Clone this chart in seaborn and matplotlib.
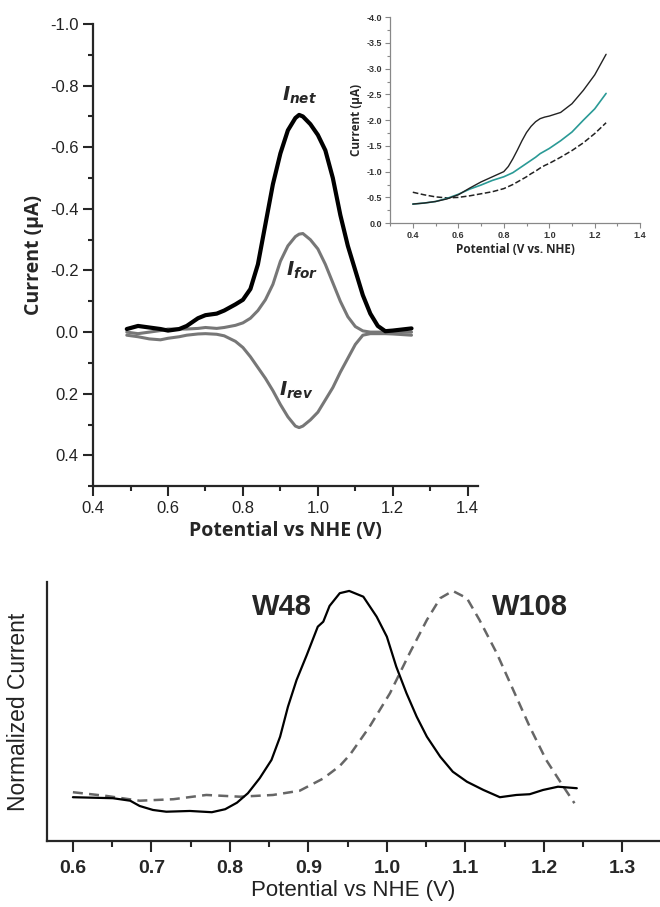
import numpy as np
import pandas as pd
import matplotlib
matplotlib.use('Agg')
import matplotlib.pyplot as plt
from matplotlib.ticker import MultipleLocator
import seaborn as sns

# Panel superior: voltametria (corriente en uA vs potencial)
pot_main = [0.49, 0.52, 0.55, 0.58, 0.60, 0.63, 0.65, 0.68, 0.70, 0.73, 0.75, 0.78, 0.80, 0.82, 0.84,
            0.86, 0.88, 0.90, 0.92, 0.94, 0.95, 0.96, 0.98, 1.00, 1.02, 1.04, 1.06, 1.08, 1.10, 1.12,
            1.14, 1.16, 1.18, 1.20, 1.25]
i_net = [-0.01, -0.02, -0.015, -0.01, -0.005, -0.01, -0.02, -0.045, -0.055, -0.06, -0.07, -0.09, -0.105,
         -0.14, -0.22, -0.35, -0.48, -0.58, -0.655, -0.695, -0.705, -0.70, -0.675, -0.64, -0.59, -0.50,
         -0.38, -0.28, -0.20, -0.12, -0.06, -0.02, -0.003, -0.005, -0.012]
i_for = [0.0, 0.005, 0.0, -0.005, -0.01, -0.01, -0.01, -0.012, -0.015, -0.012, -0.015, -0.022, -0.03,
         -0.045, -0.07, -0.105, -0.155, -0.23, -0.28, -0.31, -0.318, -0.32, -0.30, -0.27, -0.22, -0.16,
         -0.10, -0.05, -0.018, -0.004, 0.0, 0.0, 0.0, 0.0, 0.0]
i_rev = [0.01, 0.015, 0.022, 0.025, 0.02, 0.015, 0.01, 0.006, 0.005, 0.007, 0.012, 0.03, 0.05, 0.08,
         0.115, 0.15, 0.19, 0.235, 0.275, 0.305, 0.31, 0.305, 0.285, 0.26, 0.22, 0.18, 0.13, 0.085,
         0.04, 0.01, 0.005, 0.005, 0.005, 0.006, 0.01]

# Recuadro: barrido completo
pot_inset = [0.40, 0.45, 0.50, 0.55, 0.60, 0.65, 0.70, 0.75, 0.80, 0.82, 0.84, 0.86, 0.88, 0.90,
             0.92, 0.94, 0.96, 0.98, 1.00, 1.05, 1.10, 1.15, 1.20, 1.25]
ins_black = [-0.37, -0.39, -0.42, -0.47, -0.55, -0.68, -0.80, -0.90, -1.00, -1.10, -1.25, -1.42, -1.60,
             -1.76, -1.88, -1.97, -2.03, -2.06, -2.08, -2.15, -2.32, -2.58, -2.88, -3.28]
ins_teal = [-0.37, -0.39, -0.42, -0.48, -0.56, -0.66, -0.74, -0.83, -0.90, -0.94, -0.98, -1.04, -1.10,
            -1.16, -1.22, -1.28, -1.35, -1.40, -1.45, -1.60, -1.77, -2.00, -2.22, -2.52]
ins_dash = [-0.60, -0.55, -0.51, -0.49, -0.50, -0.53, -0.57, -0.61, -0.67, -0.71, -0.75, -0.80, -0.85,
            -0.90, -0.96, -1.01, -1.07, -1.12, -1.16, -1.28, -1.41, -1.56, -1.74, -1.95]

# Panel inferior: corriente normalizada W48 / W108
pot_w48 = [0.600, 0.651, 0.673, 0.685, 0.702, 0.719, 0.749, 0.777, 0.794, 0.809, 0.823, 0.838, 0.853,
           0.864, 0.874, 0.885, 0.898, 0.912, 0.919, 0.927, 0.940, 0.952, 0.970, 0.987, 1.000, 1.012,
           1.025, 1.038, 1.051, 1.068, 1.084, 1.102, 1.123, 1.144, 1.165, 1.182, 1.199, 1.218, 1.242]
w48 = [0.175, 0.171, 0.161, 0.140, 0.124, 0.117, 0.120, 0.115, 0.127, 0.153, 0.191, 0.251, 0.324,
       0.417, 0.537, 0.644, 0.744, 0.857, 0.877, 0.940, 0.991, 1.000, 0.977, 0.897, 0.817, 0.697,
       0.591, 0.497, 0.417, 0.337, 0.277, 0.237, 0.204, 0.175, 0.184, 0.187, 0.204, 0.217, 0.211]
pot_w108 = [0.600, 0.643, 0.685, 0.728, 0.770, 0.813, 0.855, 0.889, 0.919, 0.940, 0.953, 0.978, 1.004,
            1.029, 1.051, 1.068, 1.084, 1.102, 1.118, 1.140, 1.161, 1.182, 1.203, 1.225, 1.239]
w108 = [0.195, 0.180, 0.161, 0.167, 0.184, 0.177, 0.184, 0.201, 0.250, 0.300, 0.345, 0.457, 0.591,
        0.751, 0.884, 0.971, 1.000, 0.971, 0.884, 0.751, 0.604, 0.457, 0.324, 0.217, 0.151]

sns.set_style('ticks')
plt.rcParams['font.family'] = ['Liberation Sans', 'DejaVu Sans']
plt.rcParams['mathtext.fontset'] = 'custom'
plt.rcParams['mathtext.it'] = 'DejaVu Sans:italic:bold'
plt.rcParams['mathtext.rm'] = 'DejaVu Sans:bold'

fig = plt.figure(figsize=(6.6, 9.07), dpi=100)

# ---- panel superior ----
ax1 = fig.add_axes([0.141, 0.464, 0.583, 0.5095])
df_main = pd.DataFrame({'pot': pot_main, 'net': i_net, 'for': i_for, 'rev': i_rev})
sns.lineplot(data=df_main, x='pot', y='for', ax=ax1, color='#777777', lw=2.2, estimator=None, sort=False)
sns.lineplot(data=df_main, x='pot', y='rev', ax=ax1, color='#777777', lw=2.2, estimator=None, sort=False)
sns.lineplot(data=df_main, x='pot', y='net', ax=ax1, color='black', lw=3.0, estimator=None, sort=False)
ax1.set_xlim(0.4, 1.427)
ax1.set_ylim(0.5, -1.0)
ax1.set_xticks([0.4, 0.6, 0.8, 1.0, 1.2, 1.4])
ax1.set_yticks([-1.0, -0.8, -0.6, -0.4, -0.2, 0.0, 0.2, 0.4])
ax1.xaxis.set_minor_locator(MultipleLocator(0.1))
ax1.yaxis.set_minor_locator(MultipleLocator(0.1))
ax1.set_xticklabels(['0.4', '0.6', '0.8', '1.0', '1.2', '1.4'], fontsize=12, color='#222222')
ax1.set_yticklabels(['-1.0', '-0.8', '-0.6', '-0.4', '-0.2', '0.0', '0.2', '0.4'], fontsize=12, color='#222222')
ax1.tick_params(which='major', length=7, width=1.5, direction='out')
ax1.tick_params(which='minor', length=3.5, width=1.5, direction='out')
for s in ['left', 'bottom']:
    ax1.spines[s].set_linewidth(1.6)
sns.despine(ax=ax1)
ax1.set_xlabel('Potential vs NHE (V)', fontsize=14, fontweight='bold', family=['Open Sans', 'DejaVu Sans'])
ax1.set_ylabel('Current (μA)', fontsize=14, fontweight='bold', family=['Open Sans', 'DejaVu Sans'])
ax1.text(0.952, -0.77, r'$I_{net}$', fontsize=14, ha='center', va='center')
ax1.text(0.957, -0.20, r'$I_{for}$', fontsize=14, ha='center', va='center')
ax1.text(0.942, 0.19, r'$I_{rev}$', fontsize=14, ha='center', va='center')

# ---- recuadro ----
ax2 = fig.add_axes([0.591, 0.754, 0.379, 0.227])
df_ins = pd.DataFrame({'pot': pot_inset, 'black': ins_black, 'teal': ins_teal, 'dash': ins_dash})
sns.lineplot(data=df_ins, x='pot', y='dash', ax=ax2, color='#222222', lw=1.1, linestyle='--', estimator=None, sort=False)
sns.lineplot(data=df_ins, x='pot', y='teal', ax=ax2, color='#2a9a96', lw=1.2, estimator=None, sort=False)
sns.lineplot(data=df_ins, x='pot', y='black', ax=ax2, color='#222222', lw=1.0, estimator=None, sort=False)
ax2.set_xlim(0.3, 1.4)
ax2.set_ylim(0.0, -4.0)
ax2.set_xticks([0.4, 0.6, 0.8, 1.0, 1.2, 1.4])
ax2.set_yticks([0.0, -0.5, -1.0, -1.5, -2.0, -2.5, -3.0, -3.5, -4.0])
ax2.xaxis.set_minor_locator(MultipleLocator(0.1))
ax2.yaxis.set_minor_locator(MultipleLocator(0.25))
ax2.set_xticklabels(['0.4', '0.6', '0.8', '1.0', '1.2', '1.4'], fontsize=6.5, fontweight='bold', color='#333333')
ax2.set_yticklabels(['0.0', '-0.5', '-1.0', '-1.5', '-2.0', '-2.5', '-3.0', '-3.5', '-4.0'],
                    fontsize=6.5, fontweight='bold', color='#333333')
ax2.tick_params(which='major', length=3.5, width=0.8, direction='out', color='#888888', pad=2)
ax2.tick_params(which='minor', length=2, width=0.8, direction='out', color='#888888')
for s in ['left', 'bottom']:
    ax2.spines[s].set_color('#888888')
    ax2.spines[s].set_linewidth(0.9)
sns.despine(ax=ax2)
ax2.patch.set_alpha(0)
ax2.set_xlabel('Potential (V vs. NHE)', fontsize=8.5, fontweight='bold', labelpad=2, family=['Open Sans', 'DejaVu Sans'])
ax2.set_ylabel('Current (μA)', fontsize=8.5, fontweight='bold', labelpad=3, family=['Open Sans', 'DejaVu Sans'])

# ---- panel inferior ----
ax3 = fig.add_axes([0.0712, 0.0728, 0.9288, 0.2856])
df48 = pd.DataFrame({'pot': pot_w48, 'cur': w48})
df108 = pd.DataFrame({'pot': pot_w108, 'cur': w108})
sns.lineplot(data=df108, x='pot', y='cur', ax=ax3, color='#666666', lw=1.8, linestyle=(0, (4, 2.5)),
             estimator=None, sort=False)
sns.lineplot(data=df48, x='pot', y='cur', ax=ax3, color='black', lw=1.6, estimator=None, sort=False)
ax3.set_xlim(0.567, 1.348)
ax3.set_ylim(0.0, 1.036)
ax3.set_xticks([0.6, 0.7, 0.8, 0.9, 1.0, 1.1, 1.2, 1.3])
ax3.xaxis.set_minor_locator(MultipleLocator(0.05))
ax3.set_xticklabels(['0.6', '0.7', '0.8', '0.9', '1.0', '1.1', '1.2', '1.3'], fontsize=14, fontweight='bold')
ax3.set_yticks([])
ax3.tick_params(axis='x', which='major', length=8, width=1.5, direction='out', pad=6)
ax3.tick_params(axis='x', which='minor', length=4.5, width=1.5, direction='out')
for s in ['left', 'bottom']:
    ax3.spines[s].set_linewidth(1.6)
sns.despine(ax=ax3)
ax3.set_xlabel('Potential vs NHE (V)', fontsize=16, color='#222222', labelpad=2)
ax3.set_ylabel('Normalized Current', fontsize=16.5, color='#222222', labelpad=12)
ax3.text(0.866, 0.936, 'W48', fontsize=21, fontweight='bold', ha='center', va='center')
ax3.text(1.182, 0.936, 'W108', fontsize=21, fontweight='bold', ha='center', va='center')

fig.savefig('out.png', dpi=100)
